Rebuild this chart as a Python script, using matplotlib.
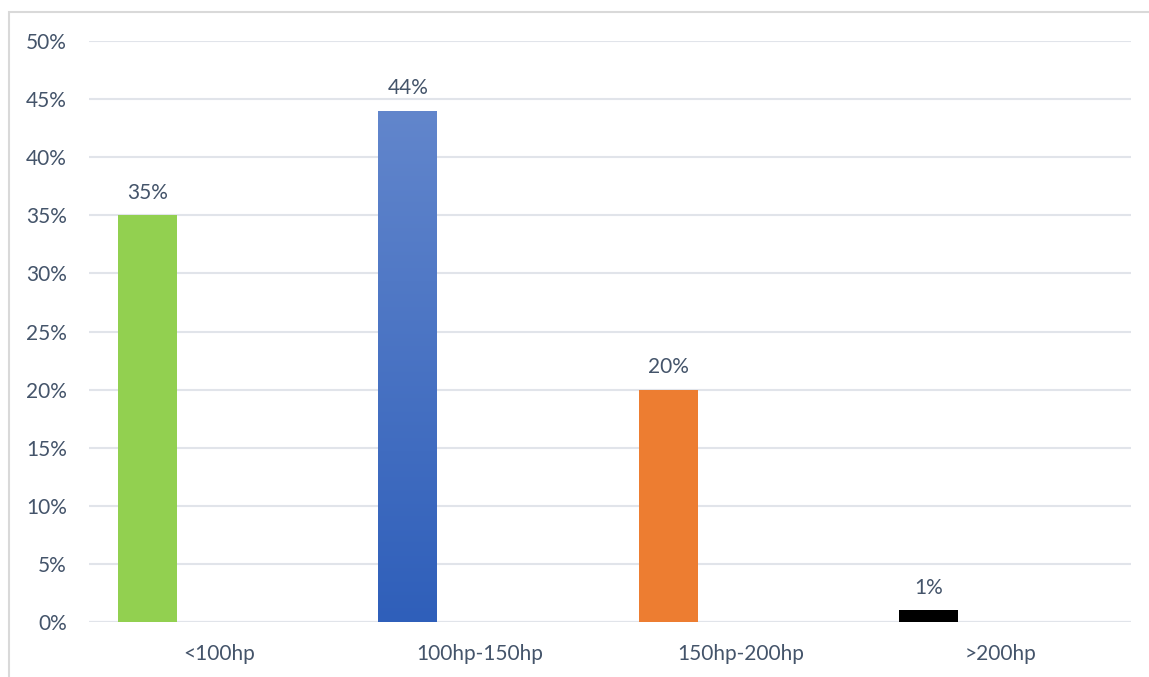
import numpy as np
import matplotlib
matplotlib.use("Agg")
import matplotlib.pyplot as plt
import matplotlib.patches as pat
from matplotlib.colors import LinearSegmentedColormap
from matplotlib.ticker import FuncFormatter

categories = ["<100hp", "100hp-150hp", "150hp-200hp", ">200hp"]
shares = [35, 44, 20, 1]
barColors = ["#92D050", None, "#ED7D31", "#000000"]  # None -> blue gradient
yTicks = [0, 5, 10, 15, 20, 25, 30, 35, 40, 45, 50]

textColor = "#44546A"
gridColor = "#E1E4EA"

plt.rcParams['font.family'] = ['Lato', 'DejaVu Sans']

fig = plt.figure(figsize=(11.49, 6.77), dpi=100)
ax = fig.add_axes([89 / 1149, 1 - 622 / 677, (1131 - 89) / 1149, (622 - 41) / 677])

# outer frame (Excel chart area border), runs off the right / bottom edges
fig.patches.append(pat.Rectangle((8.5 / 1149, -0.1), 1.2, 1 - 11.5 / 677 + 0.1,
                                 transform=fig.transFigure, fill=False,
                                 edgecolor="#D9D9D9", linewidth=1.5))

x = np.arange(len(categories))
barLeft = -0.389
barWidth = 0.226
blueMap = LinearSegmentedColormap.from_list("blueGrad", ["#2F5FBA", "#6286CC"])

for i, val in enumerate(shares):
    if barColors[i] is None:
        rect = ax.bar(x[i] + barLeft, val, barWidth, align="edge",
                      color="none", edgecolor="none", zorder=3)[0]
        grad = np.linspace(0, 1, 256).reshape(-1, 1)
        img = ax.imshow(grad, cmap=blueMap, origin="lower", aspect="auto",
                        extent=(x[i] + barLeft, x[i] + barLeft + barWidth, 0, val),
                        zorder=3)
        img.set_clip_path(rect)
    else:
        ax.bar(x[i] + barLeft, val, barWidth, align="edge",
               color=barColors[i], zorder=3)
    ax.annotate(f"{val}%", (x[i] + barLeft + barWidth / 2, val),
                xytext=(0, 9), textcoords="offset points",
                ha="center", va="bottom", fontsize=15, color=textColor)

ax.set_xlim(-0.5, len(categories) - 0.5)
ax.set_ylim(0, 50)
ax.set_yticks(yTicks)
ax.yaxis.set_major_formatter(FuncFormatter(lambda v, p: f"{v:.0f}%"))
ax.set_xticks(x)
ax.set_xticklabels(categories)
ax.tick_params(axis="both", length=0, labelsize=15, labelcolor=textColor)
ax.tick_params(axis="y", pad=16)
ax.tick_params(axis="x", pad=16)
ax.grid(axis="y", color=gridColor, linewidth=1.5, zorder=0)
ax.set_axisbelow(True)
for s in ax.spines.values():
    s.set_visible(False)

# axis line at 0
ax.axhline(0, color=gridColor, linewidth=1.5, zorder=2)

fig.savefig("out.png", dpi=100)
